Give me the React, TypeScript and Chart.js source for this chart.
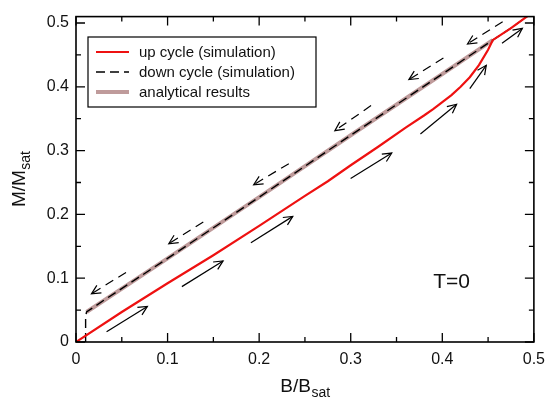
import React, { useEffect, useRef } from "react";
import { Chart, registerables } from "chart.js";

Chart.register(...registerables);

const FONT = "'Liberation Sans', Arial, Helvetica, sans-serif";

// Axis ticks
const xTickValues = [0, 0.1, 0.2, 0.3, 0.4, 0.5];
const xTickLabels = ["0", "0.1", "0.2", "0.3", "0.4", "0.5"];
const xMinorTicks = [0.05, 0.15, 0.25, 0.35, 0.45];
const yTickValues = [0, 0.1, 0.2, 0.3, 0.4, 0.5];
const yTickLabels = ["0", "0.1", "0.2", "0.3", "0.4", "0.5"];
const yMinorTicks = [0.05, 0.15, 0.25, 0.35, 0.45];

// Up cycle (simulation)
const upB = [0, 0.05, 0.1, 0.15, 0.2, 0.25, 0.275, 0.3, 0.33, 0.36, 0.38, 0.39, 0.4, 0.41, 0.42, 0.43, 0.44, 0.45, 0.455, 0.475, 0.5];
const upM = [0, 0.047, 0.092, 0.136, 0.182, 0.229, 0.252, 0.277, 0.306, 0.336, 0.355, 0.365, 0.376, 0.387, 0.4, 0.415, 0.434, 0.458, 0.473, 0.492, 0.518];

// Down cycle (simulation)
const downB = [0.5, 0.475, 0.455, 0.4, 0.3, 0.2, 0.1, 0.03, 0.0115, 0.0105, 0.0105];
const downM = [0.518, 0.492, 0.473, 0.42, 0.324, 0.227, 0.131, 0.065, 0.047, 0.04, 0];

// Analytical results
const analB = [0.0115, 0.1, 0.2, 0.3, 0.4, 0.455];
const analM = [0.047, 0.131, 0.227, 0.324, 0.42, 0.473];

// Arrows [B0, M0, B1, M1] (tail -> head)
const solidArrows = [
  [0.0334, 0.016, 0.0779, 0.0558],
  [0.1156, 0.0868, 0.1606, 0.1271],
  [0.191, 0.1555, 0.2367, 0.1969],
  [0.2999, 0.2563, 0.3448, 0.2961],
  [0.3761, 0.326, 0.4156, 0.3726],
  [0.43, 0.397, 0.448, 0.4336],
  [0.4652, 0.4682, 0.4874, 0.4915],
];
const dashedArrows = [
  [0.0546, 0.109, 0.0169, 0.0755],
  [0.139, 0.188, 0.1013, 0.154],
  [0.2324, 0.2795, 0.194, 0.2465],
  [0.3222, 0.3705, 0.2827, 0.3313],
  [0.4012, 0.445, 0.3635, 0.4113],
  [0.4659, 0.5019, 0.4275, 0.4671],
];

const tempLabel = "T=0";
const tempPos = [0.39, 0.085];

const legendLabels = ["up cycle (simulation)", "down cycle (simulation)", "analytical results"];

const RED = "#ee1111";
const ANAL = "#bf9b9b";

function toPts(xs: number[], ys: number[]) {
  return xs.map((x, i) => ({ x, y: ys[i] }));
}

function drawArrow(ctx: CanvasRenderingContext2D, x0: number, y0: number, x1: number, y1: number, dashed: boolean) {
  ctx.save();
  ctx.strokeStyle = "#000";
  ctx.lineWidth = 1.2;
  ctx.setLineDash(dashed ? [9, 6] : []);
  ctx.beginPath();
  ctx.moveTo(x0, y0);
  ctx.lineTo(x1, y1);
  ctx.stroke();
  ctx.setLineDash([]);
  const ang = Math.atan2(y1 - y0, x1 - x0);
  const L = 10;
  const a = 0.45;
  ctx.beginPath();
  ctx.moveTo(x1 - L * Math.cos(ang - a), y1 - L * Math.sin(ang - a));
  ctx.lineTo(x1, y1);
  ctx.lineTo(x1 - L * Math.cos(ang + a), y1 - L * Math.sin(ang + a));
  ctx.stroke();
  ctx.restore();
}

function subText(ctx: CanvasRenderingContext2D, main: string, sub: string, mainSize: number, subSize: number) {
  ctx.font = `${mainSize}px ${FONT}`;
  const w1 = ctx.measureText(main).width;
  ctx.font = `${subSize}px ${FONT}`;
  const w2 = ctx.measureText(sub).width;
  return { w1, w2, total: w1 + w2 };
}

const decorPlugin = {
  id: "decor",
  afterDatasetsDraw(chart: any) {
    const ctx: CanvasRenderingContext2D = chart.ctx;
    const xs = chart.scales.x;
    const ys = chart.scales.y;
    solidArrows.forEach((a) =>
      drawArrow(ctx, xs.getPixelForValue(a[0]), ys.getPixelForValue(a[1]), xs.getPixelForValue(a[2]), ys.getPixelForValue(a[3]), false)
    );
    dashedArrows.forEach((a) =>
      drawArrow(ctx, xs.getPixelForValue(a[0]), ys.getPixelForValue(a[1]), xs.getPixelForValue(a[2]), ys.getPixelForValue(a[3]), true)
    );
  },
  afterDraw(chart: any) {
    const ctx: CanvasRenderingContext2D = chart.ctx;
    const ca = chart.chartArea;
    const xs = chart.scales.x;
    const ys = chart.scales.y;
    ctx.save();
    // frame
    ctx.strokeStyle = "#000";
    ctx.lineWidth = 1.6;
    ctx.strokeRect(ca.left, ca.top, ca.right - ca.left, ca.bottom - ca.top);
    // ticks
    ctx.lineWidth = 1.3;
    const major = 9;
    const minor = 5;
    ctx.beginPath();
    const xt = (v: number, len: number) => {
      const p = xs.getPixelForValue(v);
      ctx.moveTo(p, ca.bottom);
      ctx.lineTo(p, ca.bottom - len);
      ctx.moveTo(p, ca.top);
      ctx.lineTo(p, ca.top + len);
    };
    const yt = (v: number, len: number) => {
      const p = ys.getPixelForValue(v);
      ctx.moveTo(ca.left, p);
      ctx.lineTo(ca.left + len, p);
      ctx.moveTo(ca.right, p);
      ctx.lineTo(ca.right - len, p);
    };
    xTickValues.forEach((v) => xt(v, major));
    xMinorTicks.forEach((v) => xt(v, minor));
    yTickValues.forEach((v) => yt(v, major));
    yMinorTicks.forEach((v) => yt(v, minor));
    ctx.stroke();

    // x title
    ctx.fillStyle = "#111";
    ctx.textBaseline = "alphabetic";
    ctx.textAlign = "left";
    {
      const m = subText(ctx, "B/B", "sat", 19, 14);
      const cx = (ca.left + ca.right) / 2;
      const x0 = cx - m.total / 2;
      const base = 392;
      ctx.font = `19px ${FONT}`;
      ctx.fillText("B/B", x0, base);
      ctx.font = `14px ${FONT}`;
      ctx.fillText("sat", x0 + m.w1 + 0.5, base + 5);
    }
    // y title
    {
      const m = subText(ctx, "M/M", "sat", 19, 14);
      const cy = (ca.top + ca.bottom) / 2;
      ctx.save();
      ctx.translate(25, cy);
      ctx.rotate(-Math.PI / 2);
      const x0 = -m.total / 2;
      ctx.font = `19px ${FONT}`;
      ctx.fillText("M/M", x0, 0);
      ctx.font = `14px ${FONT}`;
      ctx.fillText("sat", x0 + m.w1 + 0.5, 5);
      ctx.restore();
    }
    // T=0
    ctx.font = `21px ${FONT}`;
    ctx.fillText(tempLabel, xs.getPixelForValue(tempPos[0]), ys.getPixelForValue(tempPos[1]));

    // legend
    const lx = 88, ly = 37, lw = 228, lh = 70;
    ctx.fillStyle = "#fff";
    ctx.fillRect(lx, ly, lw, lh);
    ctx.strokeStyle = "#000";
    ctx.lineWidth = 1.2;
    ctx.strokeRect(lx, ly, lw, lh);
    const rows = [52, 72, 92];
    const ds = chart.data.datasets;
    ctx.font = `15px ${FONT}`;
    ctx.textBaseline = "middle";
    rows.forEach((ry, i) => {
      const d = ds[i];
      ctx.save();
      ctx.strokeStyle = d.borderColor;
      ctx.lineWidth = d.borderWidth;
      ctx.setLineDash(d.borderDash || []);
      ctx.beginPath();
      ctx.moveTo(96, ry);
      ctx.lineTo(129, ry);
      ctx.stroke();
      ctx.restore();
      ctx.fillStyle = "#111";
      ctx.fillText(legendLabels[i], 139, ry + 1);
    });
    ctx.restore();
  },
};

export default function App() {
  const ref = useRef<HTMLCanvasElement>(null);
  useEffect(() => {
    if (!ref.current) return;
    const chart = new Chart(ref.current, {
      type: "line",
      data: {
        datasets: [
          {
            label: legendLabels[0],
            data: toPts(upB, upM),
            borderColor: RED,
            borderWidth: 2.2,
            pointRadius: 0,
            tension: 0,
          },
          {
            label: legendLabels[1],
            data: toPts(downB, downM),
            borderColor: "#000",
            borderWidth: 1.4,
            borderDash: [9, 5],
            pointRadius: 0,
            tension: 0,
          },
          {
            label: legendLabels[2],
            data: toPts(analB, analM),
            borderColor: ANAL,
            borderWidth: 4,
            pointRadius: 0,
            tension: 0,
          },
        ],
      } as any,
      options: {
        animation: false,
        responsive: true,
        maintainAspectRatio: false,
        parsing: false,
        layout: { padding: { top: 13, right: 13, left: 0, bottom: 0 } },
        plugins: { legend: { display: false }, tooltip: { enabled: false } },
        scales: {
          x: {
            type: "linear",
            min: 0,
            max: 0.5,
            grid: { display: false, drawTicks: false },
            border: { display: false },
            afterBuildTicks: (s: any) => {
              s.ticks = xTickValues.map((v) => ({ value: v }));
            },
            afterFit: (s: any) => {
              s.height = 59;
            },
            ticks: {
              autoSkip: false,
              maxRotation: 0,
              padding: 8,
              color: "#111",
              font: { family: FONT, size: 16 },
              callback: (_v: any, i: number) => xTickLabels[i],
            },
          },
          y: {
            type: "linear",
            min: 0,
            max: 0.51,
            grid: { display: false, drawTicks: false },
            border: { display: false },
            afterBuildTicks: (s: any) => {
              s.ticks = yTickValues.map((v) => ({ value: v }));
            },
            afterFit: (s: any) => {
              s.width = 76;
            },
            ticks: {
              autoSkip: false,
              padding: 7,
              color: "#111",
              font: { family: FONT, size: 16 },
              callback: (_v: any, i: number) => yTickLabels[i],
            },
          },
        },
      } as any,
      plugins: [decorPlugin],
    });
    return () => chart.destroy();
  }, []);
  return (
    <div style={{ position: "fixed", left: 0, top: 0, width: 553, height: 401, background: "#fff" }}>
      <canvas ref={ref} />
    </div>
  );
}
